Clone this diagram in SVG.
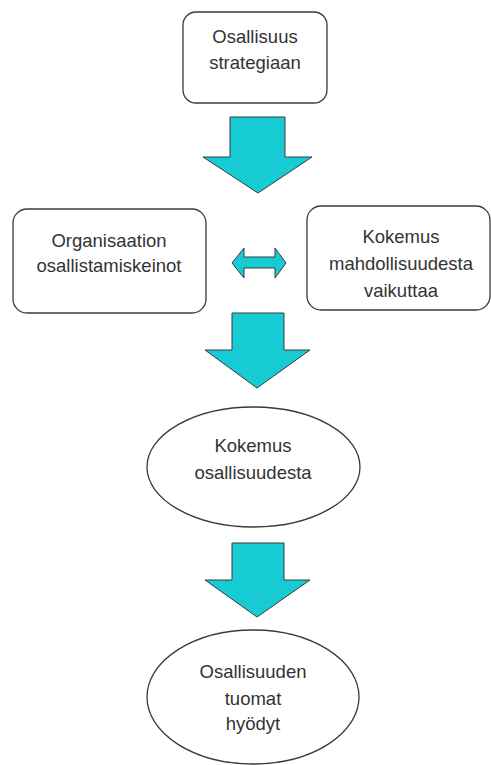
<svg xmlns="http://www.w3.org/2000/svg" width="491" height="765" viewBox="0 0 491 765">
<style>
.box{fill:#fff;stroke:#3a3a3a;stroke-width:1.3}
.arr{fill:#17CBD4;stroke:#3a3a3a;stroke-width:1}
text{font-family:"Liberation Sans",Arial,sans-serif;font-size:18.5px;fill:#333;text-anchor:middle}
</style>
<rect width="491" height="765" fill="#fff"/>
<g id="n1"><rect class="box" x="183" y="12" width="144" height="91" rx="13"/>
<text x="255" y="43">Osallisuus</text><text x="255" y="69">strategiaan</text></g>
<g id="n2"><rect class="box" x="13" y="209" width="193" height="104" rx="14"/>
<text x="109" y="247">Organisaation</text><text x="109" y="272">osallistamiskeinot</text></g>
<g id="n3"><rect class="box" x="307" y="206" width="183" height="104" rx="14"/>
<text x="401" y="243">Kokemus</text><text x="401" y="270">mahdollisuudesta</text><text x="401" y="297">vaikuttaa</text></g>
<g id="n4"><ellipse class="box" cx="253.5" cy="467" rx="106.5" ry="60"/>
<text x="253" y="452">Kokemus</text><text x="253" y="479">osallisuudesta</text></g>
<g id="n5"><ellipse class="box" cx="253" cy="697" rx="106" ry="67"/>
<text x="253" y="678">Osallisuuden</text><text x="253" y="705">tuomat</text><text x="253" y="730">hyödyt</text></g>
<g id="connectors">
<path class="arr" d="M230,117 H285 V157 H312 L258,193 L203,157 H230 Z"/>
<path class="arr" d="M232,263 L244,248 V257 H275 V248 L286,263 L275,278 V268 H244 V278 Z"/>
<path class="arr" d="M232,313 H284 V350 H310 L257,388 L205,350 H232 Z"/>
<path class="arr" d="M232,543 H284 V580 H310 L257,617 L205,580 H232 Z"/>
</g>
</svg>
